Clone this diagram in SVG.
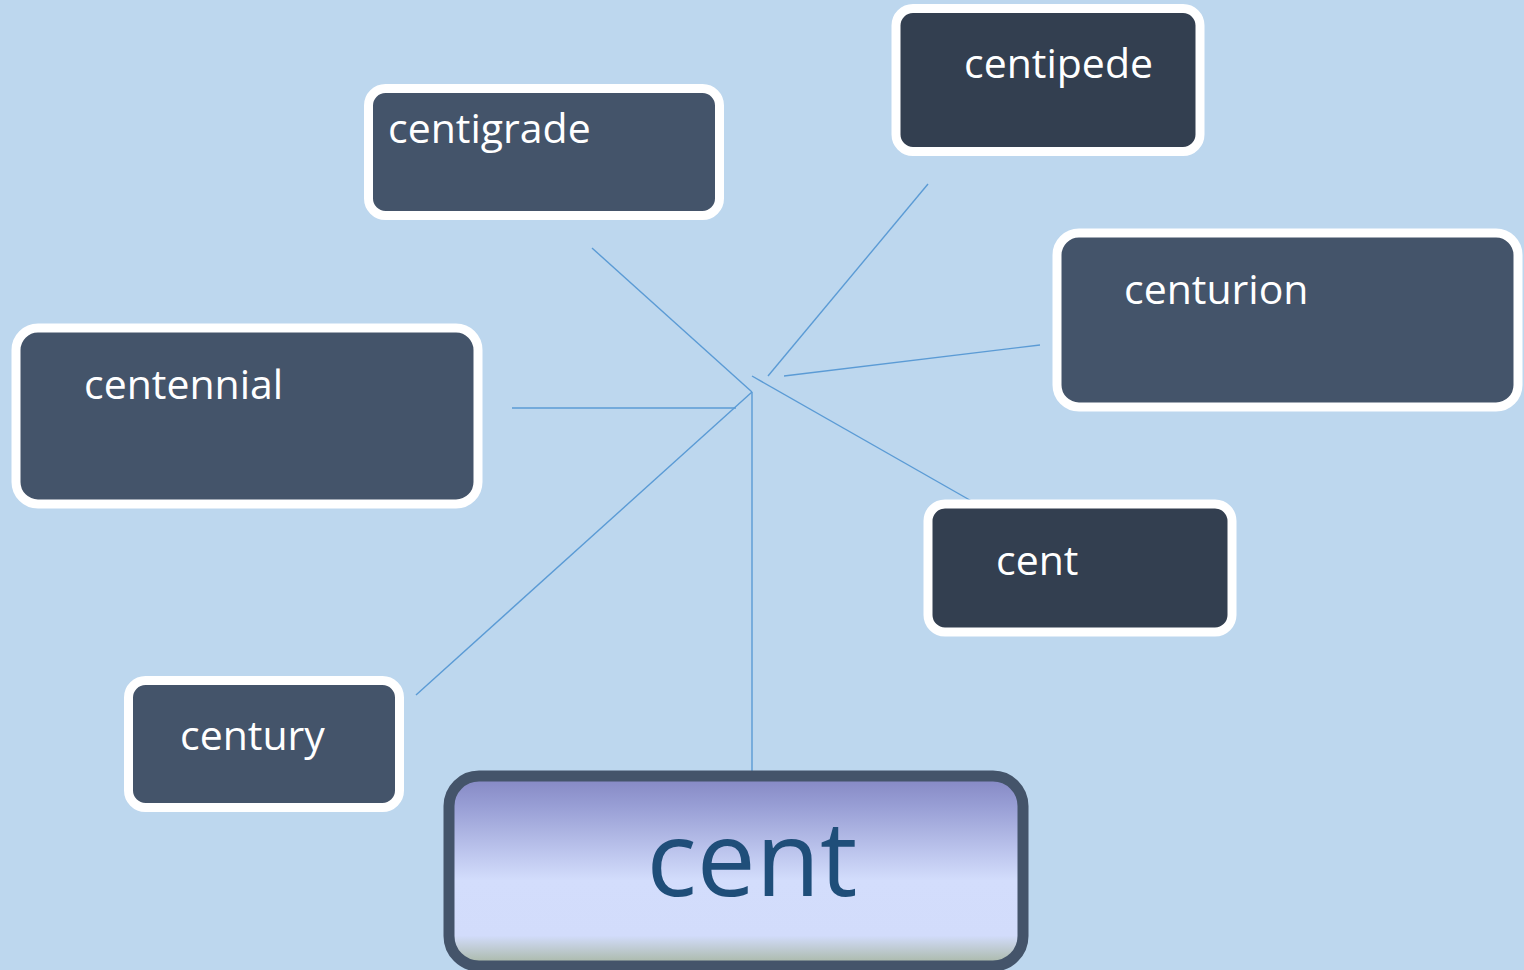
<svg xmlns="http://www.w3.org/2000/svg" width="1524" height="970" viewBox="0 0 1524 970">
  <style>
    .box { stroke: #ffffff; stroke-width: 9; }
    .mid { fill: #44546A; }
    .dark { fill: #333F50; }
    .lbl { font-family: "Open Sans", "Liberation Sans", sans-serif; font-size: 41px; fill: #ffffff; }
    .link { stroke: #5B9BD5; stroke-width: 1.4; fill: none; }
  </style>
  <defs>
    <linearGradient id="rootFill" x1="0" y1="0" x2="0" y2="1">
      <stop offset="0" stop-color="#8487C3"/>
      <stop offset="0.15" stop-color="#979DD4"/>
      <stop offset="0.55" stop-color="#D3DDFC"/>
      <stop offset="0.84" stop-color="#D2DCFB"/>
      <stop offset="1" stop-color="#A6B59F"/>
    </linearGradient>
  </defs>
  <rect width="1524" height="970" fill="#BDD7EE"/>

  <!-- spokes -->
  <g id="connectors">
    <line class="link" x1="592" y1="248" x2="752" y2="392"/>
    <line class="link" x1="928" y1="184" x2="768" y2="376"/>
    <line class="link" x1="784" y1="376" x2="1040" y2="345"/>
    <line class="link" x1="752" y1="376" x2="975" y2="503"/>
    <line class="link" x1="512" y1="408" x2="736" y2="408"/>
    <line class="link" x1="416" y1="695" x2="752" y2="392"/>
    <line class="link" x1="752" y1="392" x2="752" y2="776"/>
  </g>

  <g id="centigrade">
    <rect class="box mid" x="368.5" y="88.5" width="351" height="127" rx="17"/>
    <text class="lbl" x="388" y="143">centigrade</text>
  </g>

  <g id="centipede">
    <rect class="box dark" x="896" y="8.5" width="304" height="143" rx="17"/>
    <text class="lbl" x="964" y="78">centipede</text>
  </g>

  <g id="centurion">
    <rect class="box mid" x="1057" y="233" width="461" height="174" rx="22"/>
    <text class="lbl" x="1124" y="304">centurion</text>
  </g>

  <g id="centennial">
    <rect class="box mid" x="16" y="328" width="462" height="176" rx="22"/>
    <text class="lbl" x="84" y="399">centennial</text>
  </g>

  <g id="cent-small">
    <rect class="box dark" x="928" y="504" width="304" height="128" rx="17"/>
    <text class="lbl" x="996" y="575">cent</text>
  </g>

  <g id="century">
    <rect class="box mid" x="128.5" y="680.5" width="271" height="127" rx="17"/>
    <text class="lbl" x="180" y="750">century</text>
  </g>

  <g id="cent-root">
    <rect x="449" y="776" width="574" height="190" rx="30" fill="url(#rootFill)" stroke="#44546A" stroke-width="11"/>
    <text x="752" y="896" text-anchor="middle" font-family="Open Sans, Liberation Sans, sans-serif" font-size="105" fill="#1F4E79">cent</text>
  </g>
</svg>
